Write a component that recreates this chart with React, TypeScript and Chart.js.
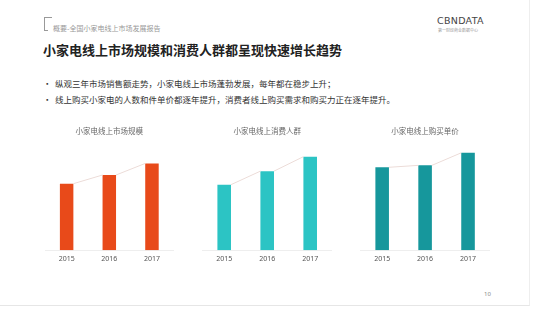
import React, { useEffect, useRef } from "react";
import { Chart, registerables } from "chart.js";

Chart.register(...registerables);

const years = ["2015", "2016", "2017"];
const marketSize = [69, 78, 90];
const consumers = [68, 82, 97];
const unitPrice = [86, 88, 101];

const titleMarket = "小家电线上市场规模";
const titleConsumers = "小家电线上消费人群";
const titlePrice = "小家电线上购买单价";

const FONT = "'Noto Sans CJK SC', 'Noto Sans', sans-serif";

const connectorPlugin = {
  id: "connector",
  afterDatasetsDraw(chart: any) {
    const meta = chart.getDatasetMeta(0);
    const els = meta.data;
    const ctx = chart.ctx;
    ctx.save();
    ctx.strokeStyle = "#ecdcd8";
    ctx.lineWidth = 1;
    for (let i = 0; i < els.length - 1; i++) {
      const a = els[i];
      const b = els[i + 1];
      ctx.beginPath();
      ctx.moveTo(a.x + a.width / 2, a.y);
      ctx.lineTo(b.x - b.width / 2, b.y);
      ctx.stroke();
    }
    ctx.restore();
  },
};

function MiniBar(props: {
  title: string;
  values: number[];
  color: string;
  left: number;
  padLeft: number;
  padRight: number;
}) {
  const ref = useRef<HTMLCanvasElement>(null);
  useEffect(() => {
    if (!ref.current) return;
    const chart = new Chart(ref.current, {
      type: "bar",
      data: {
        labels: years,
        datasets: [
          {
            data: props.values,
            backgroundColor: props.color,
            barPercentage: 0.316,
            categoryPercentage: 1,
          },
        ],
      },
      options: {
        animation: false,
        responsive: false,
        maintainAspectRatio: false,
        layout: {
          padding: { left: props.padLeft, right: props.padRight, top: 0, bottom: 11.3 },
        },
        plugins: {
          legend: { display: false },
          tooltip: { enabled: false },
          title: {
            display: true,
            text: props.title,
            color: "#666",
            font: { family: FONT, size: 7.5, weight: "normal" },
            padding: { top: 8.5, bottom: 3.8 },
          },
        },
        scales: {
          x: {
            grid: { display: false, drawTicks: false },
            border: { display: true, color: "#eeeeee" },
            ticks: {
              color: "#555",
              padding: 4,
              font: { family: "'Noto Sans', sans-serif", size: 7 },
            },
          },
          y: {
            display: false,
            min: 0,
            max: 115,
          },
        },
      },
      plugins: [connectorPlugin],
    });
    return () => chart.destroy();
  }, []);
  return (
    <canvas
      ref={ref}
      width={145}
      height={160}
      style={{ position: "absolute", left: props.left, top: 118, width: 145, height: 160 }}
    />
  );
}

export default function App() {
  return (
    <div
      style={{
        position: "fixed",
        left: 0,
        top: 0,
        width: 535,
        height: 318,
        background: "#fff",
        overflow: "hidden",
        fontFamily: FONT,
      }}
    >
      <div
        style={{
          position: "absolute",
          left: 0,
          top: 0,
          width: 529,
          height: 305,
          borderRight: "1px solid #eeeeee",
          borderBottom: "1px solid #e6e6e6",
        }}
      />
      {/* header bracket icon */}
      <div
        style={{
          position: "absolute",
          left: 44,
          top: 17,
          width: 7,
          height: 13,
          borderLeft: "1px solid #999",
          borderTop: "1px solid #999",
        }}
      />
      <div
        style={{
          position: "absolute",
          left: 44,
          top: 30,
          width: 4,
          height: 0,
          borderTop: "1px solid #999",
        }}
      />
      <div
        style={{
          position: "absolute",
          left: 53,
          top: 24,
          fontSize: 7,
          lineHeight: "9px",
          color: "#999",
          whiteSpace: "nowrap",
        }}
      >
        概要-全国小家电线上市场发展报告
      </div>
      <div
        style={{
          position: "absolute",
          left: 437,
          top: 15,
          fontSize: 9.5,
          lineHeight: "12px",
          color: "#444",
          letterSpacing: 0.3,
          fontFamily: "'DejaVu Sans', sans-serif",
          whiteSpace: "nowrap",
        }}
      >
        CBNDATA
      </div>
      <div
        style={{
          position: "absolute",
          left: 438,
          top: 28,
          fontSize: 4,
          lineHeight: "5px",
          color: "#999",
          whiteSpace: "nowrap",
        }}
      >
        第一财经商业数据中心
      </div>
      <div
        style={{
          position: "absolute",
          left: 43,
          top: 42,
          fontSize: 13,
          lineHeight: "16px",
          fontWeight: 700,
          color: "#222",
          whiteSpace: "nowrap",
        }}
      >
        小家电线上市场规模和消费人群都呈现快速增长趋势
      </div>
      <div
        style={{
          position: "absolute",
          left: 43,
          top: 75,
          fontSize: 8.5,
          lineHeight: "16px",
          color: "#333",
          whiteSpace: "nowrap",
        }}
      >
        <div>
          <span style={{ display: "inline-block", width: 12 }}>•</span>
          纵观三年市场销售额走势，小家电线上市场蓬勃发展，每年都在稳步上升；
        </div>
        <div>
          <span style={{ display: "inline-block", width: 12 }}>•</span>
          线上购买小家电的人数和件单价都逐年提升，消费者线上购买需求和购买力正在逐年提升。
        </div>
      </div>
      <MiniBar title={titleMarket} values={marketSize} color="#E84A1A" left={38} padLeft={7.3} padRight={9.7} />
      <MiniBar title={titleConsumers} values={consumers} color="#2CC4C4" left={195} padLeft={7.7} padRight={8.3} />
      <MiniBar title={titlePrice} values={unitPrice} color="#16979C" left={353} padLeft={7.7} padRight={8.5} />
      <div
        style={{
          position: "absolute",
          left: 484,
          top: 290,
          fontSize: 6,
          lineHeight: "8px",
          color: "#888",
          fontFamily: "'Noto Sans', sans-serif",
        }}
      >
        10
      </div>
    </div>
  );
}
